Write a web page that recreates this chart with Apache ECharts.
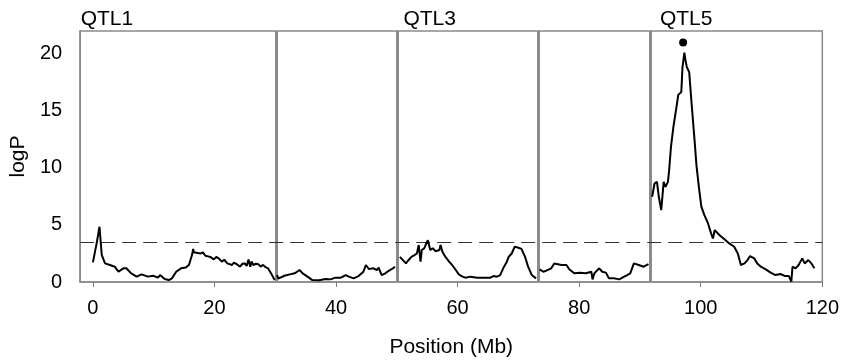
<!DOCTYPE html>
<html>
<head>
<meta charset="utf-8">
<script src="https://cdn.jsdelivr.net/npm/echarts@6/dist/echarts.min.js"></script>
<style>
  html, body { margin: 0; padding: 0; background: #fff; }
  #main { width: 842px; height: 363px; }
</style>
</head>
<body>
<div id="main"></div>
<script>
// logP scan per chromosome, [position Mb, logP]
const chr1 = [[0, 1.72], [0.65, 3.5], [1.08, 4.84], [1.3, 3.4], [1.46, 2.36], [2.0, 1.63], [2.8, 1.49], [3.6, 1.34], [4.2, 0.9], [5.0, 1.2], [5.5, 1.2], [6.3, 0.76], [7.2, 0.47], [8.0, 0.67], [9.05, 0.47], [9.9, 0.55], [10.7, 0.38], [11.05, 0.61], [11.8, 0.26], [12.5, 0.17], [13.0, 0.32], [13.7, 0.9], [14.5, 1.2], [15.3, 1.28], [15.8, 1.49], [16.3, 2.36], [16.5, 2.9], [16.6, 2.6], [16.9, 2.65], [17.7, 2.5], [18.1, 2.6], [18.5, 2.3], [19.3, 2.2], [19.9, 1.98], [20.3, 2.2], [20.7, 2.07], [21.2, 1.78], [21.6, 1.95], [22.1, 1.63], [22.9, 1.49], [23.2, 1.7], [23.7, 1.55], [24.2, 1.34], [24.6, 1.6], [25.0, 1.63], [25.3, 1.4], [25.6, 1.98], [25.9, 1.34], [26.1, 1.8], [26.4, 1.49], [26.8, 1.6], [27.2, 1.55], [27.6, 1.35], [28.0, 1.5], [28.4, 1.3], [28.8, 1.2], [29.4, 0.67], [29.9, 0.17]];
const chr2 = [[30.3, 0.61], [30.5, 0.3], [30.7, 0.47], [31.5, 0.55], [32.4, 0.67], [33.2, 0.76], [34.0, 1.05], [34.5, 0.76], [35.3, 0.47], [36.1, 0.17], [37.2, 0.15], [38.3, 0.26], [39.1, 0.23], [39.9, 0.38], [40.8, 0.38], [41.6, 0.61], [42.1, 0.47], [42.9, 0.32], [43.7, 0.52], [44.5, 0.9], [44.9, 1.49], [45.4, 1.14], [46.2, 1.2], [46.7, 1.05], [47.0, 1.25], [47.5, 0.61], [48.1, 0.76], [48.6, 0.96], [49.2, 1.14], [49.7, 1.34]];
const chr3 = [[50.5, 2.2], [51.0, 1.92], [51.5, 1.63], [51.8, 1.84], [52.4, 2.2], [52.9, 2.36], [53.3, 2.5], [53.6, 3.24], [53.9, 1.78], [54.1, 2.8], [54.5, 2.95], [55.1, 3.67], [55.5, 2.8], [55.9, 2.95], [56.4, 2.7], [57.0, 2.8], [57.2, 3.24], [57.5, 2.65], [58.0, 2.2], [58.6, 1.78], [59.1, 1.49], [59.7, 1.05], [60.2, 0.67], [60.8, 0.47], [61.3, 0.38], [62.1, 0.47], [63.2, 0.38], [64.3, 0.38], [65.4, 0.38], [65.9, 0.52], [66.5, 0.47], [67.0, 0.61], [67.5, 1.2], [68.1, 1.78], [68.4, 2.2], [68.9, 2.5], [69.4, 3.1], [70.0, 3.0], [70.5, 2.9], [71.1, 2.2], [71.6, 1.34], [72.2, 0.61], [72.9, 0.32]];
const chr4 = [[73.5, 1.1], [74.1, 0.9], [74.6, 1.0], [75.4, 1.2], [75.9, 1.63], [77.1, 1.49], [77.9, 1.49], [78.4, 1.1], [79.2, 0.76], [80.1, 0.82], [81.1, 0.76], [82.0, 0.9], [82.2, 0.23], [82.5, 0.76], [83.3, 1.2], [83.8, 0.9], [84.4, 0.82], [84.9, 0.32], [85.7, 0.32], [86.6, 0.23], [87.4, 0.47], [87.9, 0.61], [88.4, 0.76], [89.0, 1.63], [89.8, 1.49], [90.6, 1.34], [91.4, 1.57]];
const chr5 = [[92.0, 7.47], [92.4, 8.63], [92.8, 8.78], [93.1, 7.47], [93.5, 6.3], [93.9, 8.78], [94.2, 8.34], [94.6, 8.78], [94.8, 9.8], [95.1, 11.84], [95.5, 13.6], [96.0, 15.3], [96.3, 16.4], [96.8, 16.65], [97.0, 18.84], [97.3, 20.1], [97.5, 19.4], [97.7, 18.84], [98.1, 18.4], [98.5, 15.6], [99.0, 12.3], [99.3, 10.2], [99.7, 8.3], [100.1, 6.6], [100.6, 5.86], [101.2, 5.13], [101.7, 4.26], [102.0, 3.82], [102.3, 4.55], [103.1, 4.1], [103.9, 3.75], [104.7, 3.38], [105.5, 3.09], [106.1, 2.5], [106.6, 1.49], [107.2, 1.63], [107.7, 1.92], [108.1, 2.27], [108.8, 2.07], [109.3, 1.63], [109.9, 1.34], [110.7, 1.1], [111.5, 0.82], [112.3, 0.61], [113.1, 0.7], [113.9, 0.52], [114.5, 0.52], [114.9, 0.03], [115.1, 1.34], [115.6, 1.2], [116.1, 1.49], [116.7, 2.07], [117.1, 1.63], [117.7, 1.92], [118.2, 1.63], [118.7, 1.2]];

const chromBounds = [30.2, 50.1, 73.2, 91.7];
const threshold = 3.5;
const peakMarker = [[97.1, 21.0]];
const qtlLabels = [['QTL1', 2.3], ['QTL3', 55.4], ['QTL5', 97.6]];
const xTicks = [0, 20, 40, 60, 80, 100, 120];

const FONT = 'Liberation Sans, Arial, sans-serif';
const chart = echarts.init(document.getElementById('main'), null, { renderer: 'canvas' });

const lineSeries = [chr1, chr2, chr3, chr4, chr5].map((d, i) => ({
  type: 'line',
  data: d,
  showSymbol: false,
  symbol: 'none',
  lineStyle: { color: '#000', width: 2 },
  z: 5,
  markLine: i === 0 ? {
    silent: true,
    symbol: 'none',
    label: { show: false },
    data: chromBounds.map(v => ({ xAxis: v, lineStyle: { color: '#8a8a8a', width: 3, type: 'solid' } }))
      .concat([{ yAxis: threshold, lineStyle: { color: '#333', width: 1, type: [14, 7] } }])
  } : undefined
}));

const options = {
  animation: false,
  grid: {
    left: 73,
    right: 18,
    top: 31,
    bottom: 81,
    show: true,
    borderColor: '#8a8a8a',
    borderWidth: 1.5,
    backgroundColor: '#fff'
  },
  xAxis: {
    type: 'value',
    min: -2.1,
    max: 120,
    name: 'Position (Mb)',
    nameLocation: 'middle',
    nameGap: 55,
    nameTextStyle: { fontFamily: FONT, fontSize: 21, color: '#000' },
    axisLine: { show: true, onZero: false, lineStyle: { color: '#8a8a8a', width: 1.5 } },
    axisTick: { show: true, length: 5, customValues: xTicks, lineStyle: { color: '#777' } },
    axisLabel: { customValues: xTicks, margin: 16, fontFamily: FONT, fontSize: 20, color: '#000' },
    splitLine: { show: false }
  },
  yAxis: {
    type: 'value',
    min: 0,
    max: 22,
    interval: 5,
    name: 'logP',
    nameLocation: 'middle',
    nameGap: 45,
    nameTextStyle: { fontFamily: FONT, fontSize: 21, color: '#000' },
    axisLine: { show: true, onZero: false, lineStyle: { color: '#8a8a8a', width: 1.5 } },
    axisTick: { show: false },
    axisLabel: { margin: 18, fontFamily: FONT, fontSize: 20, color: '#000', showMaxLabel: false },
    splitLine: { show: false }
  },
  series: lineSeries.concat([
    {
      type: 'scatter',
      data: peakMarker,
      symbol: 'circle',
      symbolSize: 8,
      itemStyle: { color: '#000', opacity: 1 },
      z: 6
    },
    {
      type: 'scatter',
      data: qtlLabels.map(q => ({ name: q[0], value: [q[1], 22] })),
      symbolSize: 0,
      clip: false,
      itemStyle: { opacity: 1 },
      label: {
        show: true,
        position: 'top',
        distance: 1,
        formatter: p => p.name,
        fontFamily: FONT,
        fontSize: 21,
        color: '#000'
      },
      z: 7
    }
  ])
};

chart.setOption(options);
</script>
</body>
</html>
